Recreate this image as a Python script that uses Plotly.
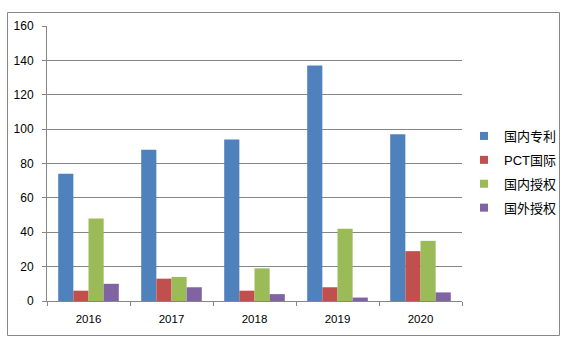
import plotly.graph_objects as go

years = ["2016", "2017", "2018", "2019", "2020"]
series_names = ["国内专利", "PCT国际", "国内授权", "国外授权"]
domestic_patent = [74, 88, 94, 137, 97]
pct_intl = [6, 13, 6, 8, 29]
domestic_grant = [48, 14, 19, 42, 35]
foreign_grant = [10, 8, 4, 2, 5]
y_ticks = [0, 20, 40, 60, 80, 100, 120, 140, 160]

colors = ["#4F81BD", "#C0504D", "#9BBB59", "#8064A2"]
values = [domestic_patent, pct_intl, domestic_grant, foreign_grant]

W, H = 563, 345
L, R, T, B = 47, 101, 26, 44
pw, ph = W - L - R, H - T - B

fig = go.Figure()
for name, vals, c in zip(series_names, values, colors):
    fig.add_trace(go.Bar(x=years, y=vals, name=name, marker_color=c,
                         marker_line_width=0, showlegend=False))
for i, (name, c) in enumerate(zip(series_names, colors)):
    fig.add_trace(go.Scatter(x=[None], y=[None], mode="markers", name=name,
                             legendgroup=f"g{i}",
                             marker=dict(symbol="square", size=8, color=c)))

font_family = "Arial, Liberation Sans, 'Noto Sans CJK SC', sans-serif"

def px_to_paper_x(px):
    return (px - L) / pw

def py_to_paper_y(py):
    return (H - B - py) / ph

fig.add_shape(type="rect", xref="paper", yref="paper",
              x0=px_to_paper_x(7.5), x1=px_to_paper_x(559.5),
              y0=py_to_paper_y(335.5), y1=py_to_paper_y(12.5),
              line=dict(color="#878787", width=1), fillcolor="rgba(0,0,0,0)",
              layer="below")

fig.update_layout(
    width=W, height=H,
    margin=dict(l=L, r=R, t=T, b=B, autoexpand=False),
    paper_bgcolor="white", plot_bgcolor="white",
    barmode="group", bargap=0.27, bargroupgap=0,
    font=dict(family=font_family, size=11, color="#000000"),
    legend=dict(xref="container", yref="container",
                x=464 / W, xanchor="left", y=(H - 172) / H, yanchor="middle",
                font=dict(size=13, color="#000000"),
                tracegroupgap=4, traceorder="grouped", itemwidth=30,
                bgcolor="rgba(0,0,0,0)"),
    xaxis=dict(showline=True, linecolor="#868686", linewidth=1,
               ticks="outside", tickson="boundaries", ticklen=4,
               tickcolor="#868686", showgrid=False,
               tickfont=dict(size=11.5), ticklabelstandoff=7, fixedrange=True),
    yaxis=dict(range=[0, 160], tickvals=y_ticks, showline=True,
               linecolor="#868686", linewidth=1, ticks="outside", ticklen=4,
               tickcolor="#868686", showgrid=True, gridcolor="#868686",
               gridwidth=1, zeroline=False, tickfont=dict(size=12),
               ticklabelstandoff=6, fixedrange=True),
)

fig.write_html("out.html")
